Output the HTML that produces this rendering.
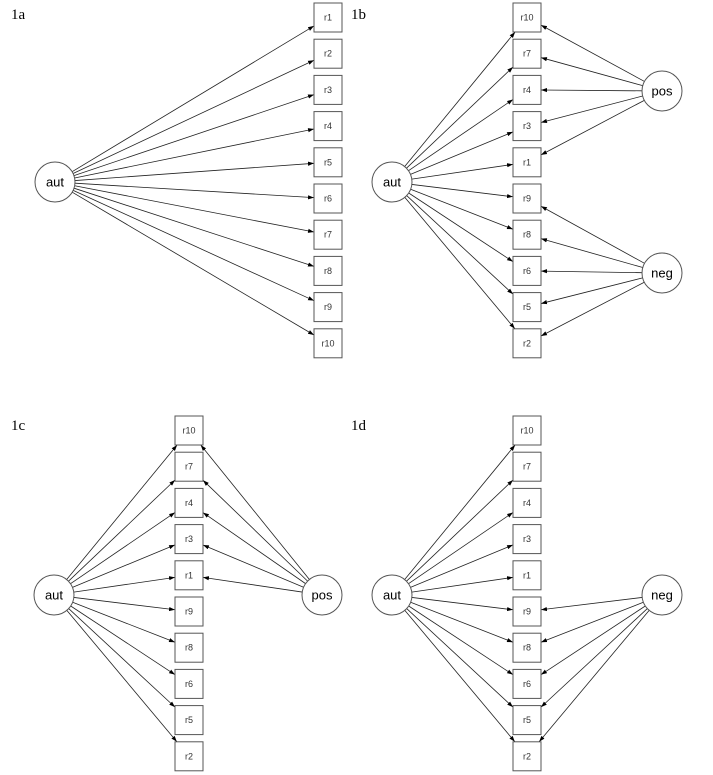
<!DOCTYPE html>
<html><head><meta charset="utf-8">
<style>
html,body{margin:0;padding:0;background:#fff;}
svg{display:block;}
.lbl{font-family:"Liberation Serif",serif;font-size:15px;fill:#000;}
.bt{font-family:"Liberation Sans",sans-serif;font-size:9px;fill:#333;}
.ct{font-family:"Liberation Sans",sans-serif;font-size:13px;fill:#000;}
</style></head>
<body>
<svg id="s" width="713" height="775" xmlns="http://www.w3.org/2000/svg">
<defs><marker id="a" viewBox="0 0 10 10" refX="10" refY="5" markerWidth="6" markerHeight="6" orient="auto" markerUnits="userSpaceOnUse"><path d="M0,1.5 L10,5 L0,8.5z" fill="#000"/></marker></defs>
<text class="lbl" x="11" y="19">1a</text>
<text class="lbl" x="351" y="19">1b</text>
<text class="lbl" x="11" y="430">1c</text>
<text class="lbl" x="351" y="430">1d</text>
</svg>
<script>
var s=document.getElementById('s'),NS='http://www.w3.org/2000/svg';
function el(t,a,txt){var e=document.createElementNS(NS,t);for(var k in a)e.setAttribute(k,a[k]);if(txt)e.textContent=txt;s.appendChild(e);return e;}
var W=28,H=29,P=36.2,R=20;
function panel(bx,top,names,circles,edges){
  var boxes={};
  names.forEach(function(n,i){var y=top+i*P;boxes[n]={x:bx,y:y,cx:bx+W/2,cy:y+H/2};});
  // edges
  edges.forEach(function(e){
    var c=circles[e[0]],b=boxes[e[1]];
    var dx=b.cx-c.x,dy=b.cy-c.y,L=Math.sqrt(dx*dx+dy*dy);
    var sx=c.x+dx/L*R,sy=c.y+dy/L*R;
    var tx=Math.abs(dx)>0?(W/2)/Math.abs(dx):1e9,ty=Math.abs(dy)>0?(H/2)/Math.abs(dy):1e9;
    var t=Math.min(tx,ty);
    var ex=b.cx-dx*t,ey=b.cy-dy*t;
    el('line',{x1:sx,y1:sy,x2:ex,y2:ey,stroke:'#222','stroke-width':0.8,'marker-end':'url(#a)'});
  });
  names.forEach(function(n){var b=boxes[n];
    el('rect',{x:b.x,y:b.y,width:W,height:H,fill:'#fff',stroke:'#555','stroke-width':1});
    el('text',{x:b.cx,y:b.cy+3,'text-anchor':'middle','class':'bt'},n);});
  for(var k in circles){var c=circles[k];
    el('circle',{cx:c.x,cy:c.y,r:R,fill:'#fff',stroke:'#555','stroke-width':1});
    el('text',{x:c.x,y:c.y+4.5,'text-anchor':'middle','class':'ct'},k);}
}
var A=['r1','r2','r3','r4','r5','r6','r7','r8','r9','r10'];
var B=['r10','r7','r4','r3','r1','r9','r8','r6','r5','r2'];
var posL=['r10','r7','r4','r3','r1'],negL=['r9','r8','r6','r5','r2'];
function ed(c,l){return l.map(function(n){return [c,n];});}
panel(314,3,A,{aut:{x:55,y:182}},ed('aut',A));
panel(513,3,B,{aut:{x:392,y:182},pos:{x:662,y:91},neg:{x:662,y:273}},ed('aut',B).concat(ed('pos',posL)).concat(ed('neg',negL)));
panel(175,416,B,{aut:{x:54,y:595},pos:{x:322,y:595}},ed('aut',B).concat(ed('pos',posL)));
panel(513,416,B,{aut:{x:392,y:595},neg:{x:662,y:595}},ed('aut',B).concat(ed('neg',negL)));
</script>
</body></html>
